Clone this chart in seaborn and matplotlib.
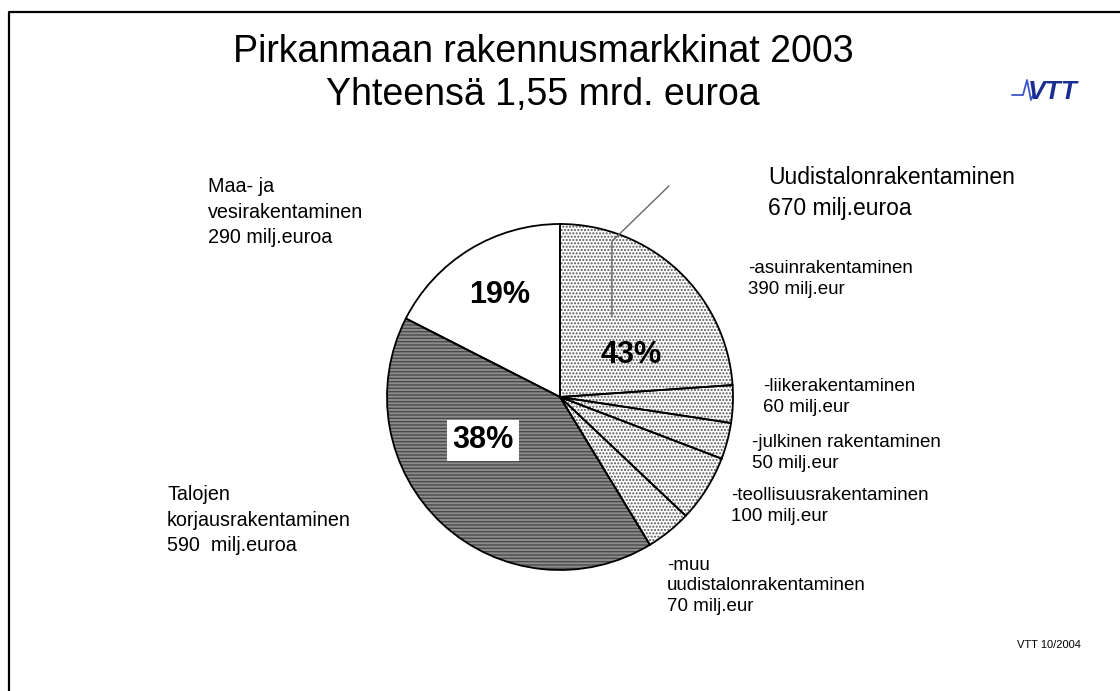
import matplotlib
matplotlib.use('Agg')

import matplotlib.pyplot as plt
import seaborn as sns
from matplotlib.lines import Line2D

# osuudet piirretystä ympyrästä (%), järjestys myötäpäivään klo 12:sta
segments = ['asuin', 'liike', 'julkinen', 'teollisuus', 'muu', 'korjaus', 'maa']
shares = [23.9, 3.5, 3.4, 6.25, 4.25, 41.2, 17.5]
segment_group = ['uudis', 'uudis', 'uudis', 'uudis', 'uudis', 'korjaus', 'maa']

pct_labels = ['19%', '43%', '38%']

title_lines = ['Pirkanmaan rakennusmarkkinat 2003', 'Yhteensä 1,55 mrd. euroa']

main_labels = [
    'Uudistalonrakentaminen\n670 milj.euroa',
    'Maa- ja\nvesirakentaminen\n290 milj.euroa',
    'Talojen\nkorjausrakentaminen\n590  milj.euroa',
]
sub_labels = [
    '-asuinrakentaminen\n390 milj.eur',
    '-liikerakentaminen\n60 milj.eur',
    '-julkinen rakentaminen\n50 milj.eur',
    '-teollisuusrakentaminen\n100 milj.eur',
    '-muu\nuudistalonrakentaminen\n70 milj.eur',
]

sns.set_theme(style="white")
plt.rcParams['font.family'] = ['Liberation Sans', 'DejaVu Sans']
plt.rcParams['text.color'] = 'black'
plt.rcParams['hatch.linewidth'] = 1.0

W, H = 1120, 691
fig = plt.figure(figsize=(W / 100, H / 100), dpi=100)
fig.patch.set_facecolor('white')


def fx(px):
    return px / W


def fy(py):
    return 1 - py / H


# kehys (vain vasen ja ylä näkyvät)
fig.add_artist(Line2D([fx(9), fx(9), 1], [0, fy(12), fy(12)],
                      color='black', lw=1.6, transform=fig.transFigure))

# otsikko
fig.text(fx(543), fy(52), title_lines[0], ha='center', va='center', fontsize=27)
fig.text(fx(543), fy(95), title_lines[1], ha='center', va='center', fontsize=27)

# VTT-logo
fig.text(fx(1028), fy(92), 'VTT', ha='left', va='center', fontsize=19,
         fontweight='heavy', style='italic', color='#1b2f93')
fig.add_artist(Line2D([fx(1012), fx(1023), fx(1027), fx(1031), fx(1034)],
                      [fy(95), fy(95), fy(80), fy(100), fy(93)],
                      color='#3a55c8', lw=1.3, transform=fig.transFigure))

# piirakka
cx, cy, r = 560, 397, 173
ax = fig.add_axes([fx(cx - r), fy(cy + r), 2 * r / W, 2 * r / H])
style = {
    'uudis': dict(facecolor='white', hatch='.....', edgecolor='#555555'),
    'korjaus': dict(facecolor='#8c8c8c', hatch='-----', edgecolor='#4a4a4a'),
    'maa': dict(facecolor='white', hatch=None, edgecolor='black'),
}
wedges, _ = ax.pie(shares, startangle=90, counterclock=False, radius=1,
                   wedgeprops=dict(linewidth=0))
for w, g in zip(wedges, segment_group):
    w.set_facecolor(style[g]['facecolor'])
    if style[g]['hatch']:
        w.set_hatch(style[g]['hatch'])
    w.set_edgecolor(style[g]['edgecolor'])
# ääriviivat erikseen mustalla
outline, _ = ax.pie(shares, startangle=90, counterclock=False, radius=1,
                    wedgeprops=dict(facecolor='none', edgecolor='black', linewidth=1.3))
ax.set_xlim(-1, 1)
ax.set_ylim(-1, 1)
ax.set_aspect('equal')
ax.axis('off')

ax.text(-0.35, 0.59, pct_labels[0], ha='center', va='center', fontsize=22, fontweight='bold')
ax.text(0.41, 0.245, pct_labels[1], ha='center', va='center', fontsize=22, fontweight='bold')
ax.text(-0.445, -0.25, pct_labels[2], ha='center', va='center', fontsize=22, fontweight='bold',
        bbox=dict(facecolor='white', edgecolor='none', pad=4))

# johtoviiva Uudistalonrakentaminen-tekstiin
ax.plot([0.30, 0.30, 0.63], [0.47, 0.90, 1.22], color='#666666', lw=1.0, clip_on=False)

# otsikot lohkoille
fig.text(fx(768), fy(193), main_labels[0], ha='left', va='center', fontsize=16.5, linespacing=1.4)
fig.text(fx(208), fy(212), main_labels[1], ha='left', va='center', fontsize=14.2, linespacing=1.45)
fig.text(fx(167), fy(520), main_labels[2], ha='left', va='center', fontsize=14.2, linespacing=1.45)

sub_pos = [(748, 279), (763, 397), (752, 453), (731, 506), (667, 586)]
for (px, py), txt in zip(sub_pos, sub_labels):
    fig.text(fx(px), fy(py), txt, ha='left', va='center', fontsize=13.5, linespacing=1.3)

fig.text(fx(1017), fy(645), 'VTT 10/2004', ha='left', va='center', fontsize=8)

fig.savefig('out.png', dpi=100, facecolor='white')
plt.close(fig)
